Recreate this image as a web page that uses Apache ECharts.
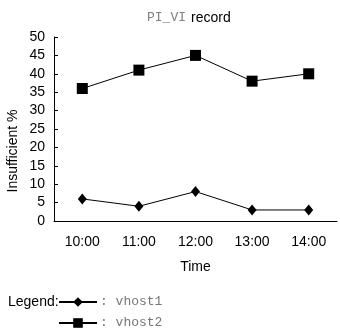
<!DOCTYPE html>
<html><head><meta charset="utf-8">
<script src="https://cdn.jsdelivr.net/npm/echarts@6/dist/echarts.min.js"></script>
<style>html,body{margin:0;padding:0;background:#fff}#c{width:340px;height:335px}</style>
</head><body><div id="c"></div>
<script>
var categories = ['10:00', '11:00', '12:00', '13:00', '14:00'];
var vhost1 = [6, 4, 8, 3, 3];
var vhost2 = [36, 41, 45, 38, 40];
var yTicks = { min: 0, max: 50, interval: 5 };
var sans = '"Liberation Sans", Arial, sans-serif';
var mono = '"Liberation Mono", "DejaVu Sans Mono", monospace';

var chart = echarts.init(document.getElementById('c'), null, { renderer: 'canvas' });
chart.setOption({
  animation: false,
  backgroundColor: '#fff',
  title: {
    text: '{m|PI_VI} {s|record}',
    left: 142, top: 4,
    textStyle: {
      fontWeight: 'normal',
      rich: {
        m: { fontFamily: mono, fontSize: 13, color: '#808080', fontWeight: 'normal' },
        s: { fontFamily: sans, fontSize: 14, color: '#000', fontWeight: 'normal' }
      }
    }
  },
  grid: { left: 54, right: 3, top: 37, bottom: 114, containLabel: false },
  xAxis: {
    type: 'category', data: categories, boundaryGap: true,
    name: 'Time', nameLocation: 'middle', nameGap: 39,
    nameTextStyle: { fontFamily: sans, fontSize: 14, color: '#000' },
    axisLine: { lineStyle: { color: '#000', width: 1 } },
    axisTick: { inside: true, length: 4, lineStyle: { color: '#000' } },
    axisLabel: { fontFamily: sans, fontSize: 14, color: '#000', margin: 14 },
    splitLine: { show: false }
  },
  yAxis: {
    type: 'value', min: yTicks.min, max: yTicks.max, interval: yTicks.interval,
    axisLine: { show: true, lineStyle: { color: '#000', width: 1 } },
    axisTick: { show: true, inside: true, length: 4, lineStyle: { color: '#000' } },
    axisLabel: { fontFamily: sans, fontSize: 14, color: '#000', margin: 9 },
    splitLine: { show: false }
  },
  legend: {
    orient: 'vertical', left: 58, top: 295, padding: 0,
    itemWidth: 38, itemHeight: 12, itemGap: 7,
    formatter: ': {name}',
    textStyle: { fontFamily: mono, fontSize: 13, color: '#777', lineHeight: 14, padding: [0,0,0,-2] },
    data: ['vhost1', 'vhost2']
  },
  graphic: [
    { type: 'text', x: 8, y: 302, style: { text: 'Legend:', fontFamily: sans, fontSize: 14, fill: '#000', textVerticalAlign: 'middle' } },
    { type: 'text', x: 13, y: 151, rotation: Math.PI / 2, style: { text: 'Insufficient %', fontFamily: sans, fontSize: 14, fill: '#000', textAlign: 'center', textVerticalAlign: 'middle' } }
  ],
  series: [
    { name: 'vhost1', type: 'line', data: vhost1, symbol: 'diamond', symbolSize: [9, 11],
      lineStyle: { color: '#000', width: 1 }, itemStyle: { color: '#000' } },
    { name: 'vhost2', type: 'line', data: vhost2, symbol: 'rect', symbolSize: 11,
      lineStyle: { color: '#000', width: 1 }, itemStyle: { color: '#000' } }
  ]
});
</script></body></html>
